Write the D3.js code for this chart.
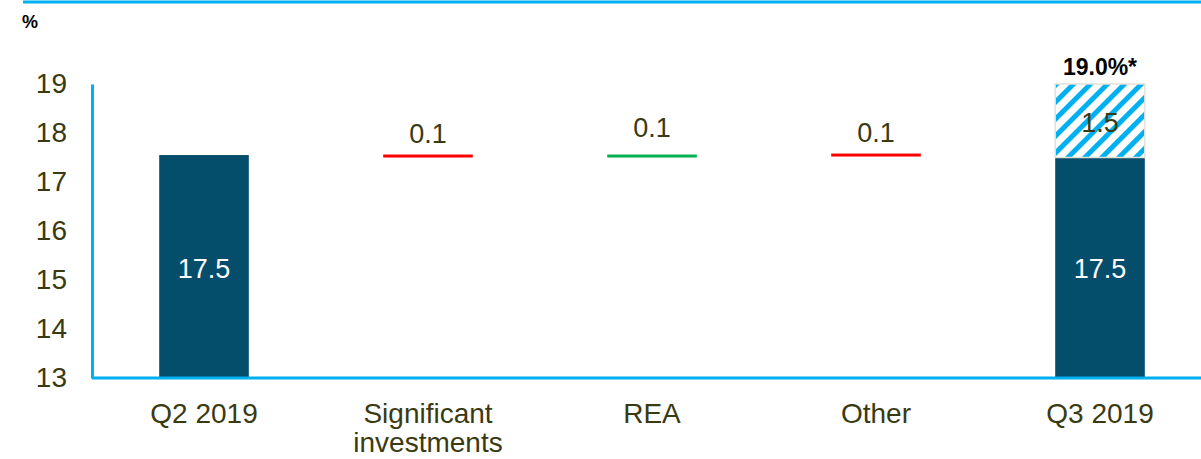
<!DOCTYPE html>
<html><head><meta charset="utf-8">
<script src="https://cdn.jsdelivr.net/npm/d3@7"></script>
<style>body{margin:0;background:#fff;}svg{display:block;font-family:Arial,"Liberation Sans",sans-serif;}</style>
</head><body><svg id="c" width="1201" height="459"></svg>
<script>
const categories = ["Q2 2019", "Significant investments", "REA", "Other", "Q3 2019"];
const categoryLines = [["Q2 2019"], ["Significant", "investments"], ["REA"], ["Other"], ["Q3 2019"]];
const baseValues = [17.55, null, null, null, 17.5];
const deltaValues = [null, 0.1, 0.1, 0.1, null];
const deltaLevels = [null, 17.53, 17.53, 17.55, null];
const deltaColors = [null, "#ff0000", "#00b050", "#ff0000", null];
const stackedTop = [null, null, null, null, 1.5];
const baseLabels = ["17.5", null, null, null, "17.5"];
const totalLabel = "19.0%*";
const yTicks = [13, 14, 15, 16, 17, 18, 19];

const svg = d3.select("#c");
const m = {l: 92, r: 0, t: 84, b: 81};
const W = 1201, H = 459;
const x = d3.scaleBand().domain(categories).range([m.l, m.l + 224*5]).paddingInner(0.6).paddingOuter(0.3);
const y = d3.scaleLinear().domain([13, 19]).range([H - m.b, m.t]);
const textCol = "#3a3a12";
const blue = "#00b0f0";

// pattern
const defs = svg.append("defs");
const pat = defs.append("pattern").attr("id", "hatch").attr("patternUnits", "userSpaceOnUse")
  .attr("width", 12).attr("height", 12).attr("patternTransform", "rotate(45)");
pat.append("rect").attr("width", 12).attr("height", 12).attr("fill", "#fff");
pat.append("rect").attr("x", 0).attr("width", 5).attr("height", 12).attr("fill", blue);

// top rule
svg.append("line").attr("x1", 23).attr("x2", W).attr("y1", 2).attr("y2", 2).attr("stroke", blue).attr("stroke-width", 3);
svg.append("text").attr("x", 22).attr("y", 28).attr("font-size", 18).attr("font-weight", "bold").attr("fill", "#000").text("%");

// y axis
const ya = svg.append("g").attr("transform", `translate(${m.l},0)`).call(d3.axisLeft(y).tickValues(yTicks).tickSize(0).tickPadding(25).tickFormat(d3.format("d")));
ya.select(".domain").attr("stroke", blue).attr("stroke-width", 3);
ya.selectAll("text").attr("font-size", 28).attr("fill", textCol).attr("font-family", "Arial, 'Liberation Sans', sans-serif");

// bars
categories.forEach((c, i) => {
  const bx = x(c), bw = x.bandwidth();
  if (baseValues[i] != null) {
    svg.append("rect").attr("x", bx).attr("width", bw).attr("y", y(baseValues[i])).attr("height", y(13) - y(baseValues[i])).attr("fill", "#044d6b");
    svg.append("text").attr("x", bx + bw/2).attr("y", 278).attr("text-anchor", "middle").attr("font-size", 27).attr("fill", "#fff").text(baseLabels[i]);
  }
  if (stackedTop[i] != null) {
    const b = baseValues[i], t = b + stackedTop[i];
    svg.append("rect").attr("x", bx).attr("width", bw).attr("y", y(t)).attr("height", y(b) - y(t)).attr("fill", "url(#hatch)").attr("stroke", "#e4e1d8").attr("stroke-width", 1.5);
    svg.append("text").attr("x", bx + bw/2).attr("y", y((b + t)/2) + 11).attr("text-anchor", "middle").attr("font-size", 27).attr("fill", textCol).text(stackedTop[i].toFixed(1));
    svg.append("text").attr("x", bx + bw/2).attr("y", y(t) - 9).attr("text-anchor", "middle").attr("font-size", 23).attr("font-weight", "bold").attr("fill", "#000").text(totalLabel);
  }
  if (deltaValues[i] != null) {
    svg.append("rect").attr("x", bx).attr("width", bw).attr("y", y(deltaLevels[i]) - 1.5).attr("height", 3).attr("fill", deltaColors[i]);
    svg.append("text").attr("x", bx + bw/2).attr("y", y(deltaLevels[i]) - 13 - (i === 2 ? 6 : 0)).attr("text-anchor", "middle").attr("font-size", 27).attr("fill", textCol).text(deltaValues[i].toFixed(1));
  }
});

// x axis
svg.append("line").attr("x1", m.l).attr("x2", W).attr("y1", y(13)).attr("y2", y(13)).attr("stroke", blue).attr("stroke-width", 3);
categories.forEach((c, i) => {
  const t = svg.append("text").attr("x", x(c) + x.bandwidth()/2).attr("y", 423).attr("text-anchor", "middle").attr("font-size", 28).attr("fill", textCol);
  categoryLines[i].forEach((ln, j) => t.append("tspan").attr("x", x(c) + x.bandwidth()/2).attr("dy", j ? 29 : 0).text(ln));
});
</script></body></html>
